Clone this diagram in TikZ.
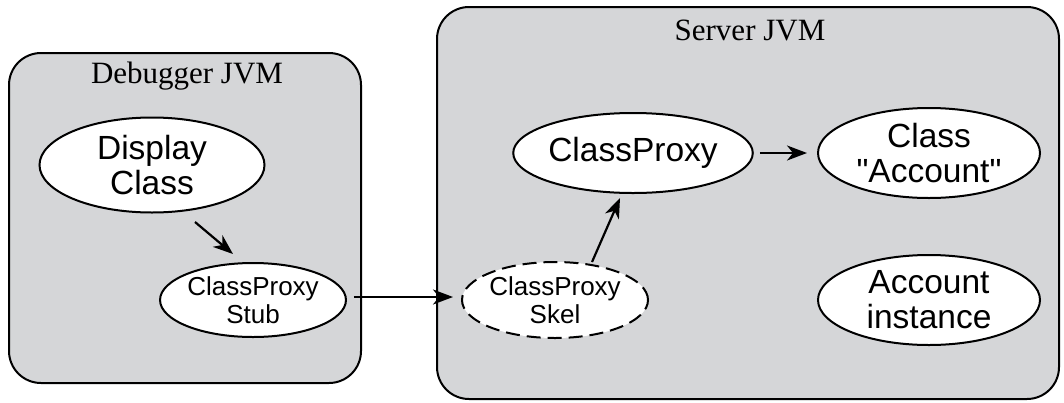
\documentclass[tikz,border=0pt]{standalone}
\usepackage{fontspec}
\setmainfont{Liberation Serif}
\newfontfamily\helv{Liberation Sans}
\usetikzlibrary{shapes.geometric,arrows.meta}
\definecolor{jvmgray}{HTML}{D5D6D8}
\begin{document}
\begin{tikzpicture}[x=1pt,y=-1pt,
  jvm/.style={draw=black,line width=2pt,fill=jvmgray,rounded corners=32pt},
  obj/.style={ellipse,draw=black,line width=2pt,fill=white,inner sep=0pt,align=center,font=\helv\fontsize{33.5}{35}\selectfont},
  small/.style={font=\helv\fontsize{26}{28}\selectfont},
  title/.style={font=\fontsize{31}{33}\selectfont},
  conn/.style={-{Stealth[length=20pt,width=15pt,inset=6pt]},line width=2.2pt}]
\useasboundingbox (0,0) rectangle (1064,402);
\draw[jvm] (9,53) rectangle (361,383);
\draw[jvm] (437,7) rectangle (1059,399);
\node[title] (dtitle) at (187,76) {Debugger JVM};
\node[title] (stitle) at (750,30) {Server JVM};
\node[obj,minimum width=225pt,minimum height=95pt] (display) at (152,165) {Display\\Class};
\node[obj,small,minimum width=185pt,minimum height=74pt] (stub) at (253,300) {ClassProxy\\Stub};
\node[obj,small,dashed,dash pattern=on 14pt off 7pt,minimum width=186pt,minimum height=76pt] (skel) at (555,300) {ClassProxy\\Skel};
\node[obj,minimum width=230pt,minimum height=80pt] (proxy) at (633,153) {ClassProxy};
\node[obj,minimum width=222pt,minimum height=90pt] (cls) at (929,153) {Class\\"Account"};
\node[obj,minimum width=222pt,minimum height=90pt] (inst) at (929,300) {Account\\instance};
\draw[conn] ([shift={(43,57)}]display.center) -- ([shift={(-20,-46)}]stub.center);
\draw[conn] ([shift={(7,-3)}]stub.east) -- ([shift={(-8,-3)}]skel.west);
\draw[conn] ([shift={(37,-38)}]skel.center) -- ([shift={(-13,45)}]proxy.center);
\draw[conn] ([xshift=6pt]proxy.east) -- ([xshift=-10pt]cls.west);
\end{tikzpicture}
\end{document}
